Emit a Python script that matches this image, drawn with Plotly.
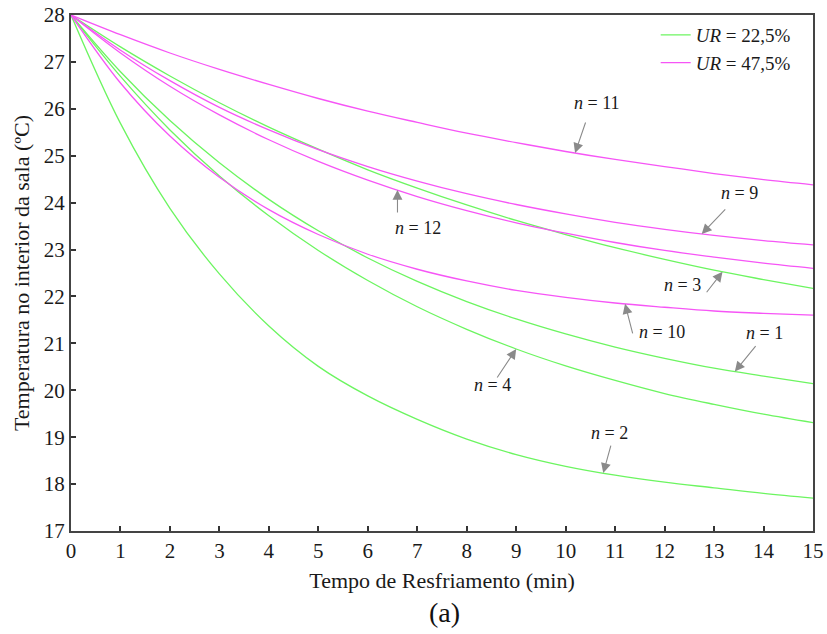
import numpy as np
import plotly.graph_objects as go

# Tempo de resfriamento (min)
tempo = list(range(0, 16))

# UR = 22,5 %
n1 = [28.0, 26.79, 25.75, 24.85, 24.07, 23.40, 22.82, 22.32, 21.89, 21.52, 21.20, 20.92, 20.68, 20.47, 20.30, 20.14]
n2 = [28.0, 25.69, 23.88, 22.48, 21.37, 20.51, 19.88, 19.38, 18.96, 18.63, 18.38, 18.19, 18.04, 17.92, 17.80, 17.70]
n3 = [28.0, 27.32, 26.70, 26.13, 25.61, 25.14, 24.70, 24.31, 23.95, 23.62, 23.32, 23.04, 22.79, 22.56, 22.36, 22.17]
n4 = [28.0, 26.69, 25.55, 24.57, 23.72, 22.98, 22.34, 21.78, 21.30, 20.88, 20.52, 20.21, 19.93, 19.70, 19.49, 19.31]

# UR = 47,5 %
n9 = [28.0, 27.25, 26.60, 26.03, 25.55, 25.13, 24.77, 24.46, 24.19, 23.96, 23.76, 23.58, 23.43, 23.30, 23.19, 23.10]
n10 = [28.0, 26.55, 25.42, 24.54, 23.85, 23.32, 22.90, 22.58, 22.33, 22.13, 21.98, 21.86, 21.77, 21.69, 21.64, 21.60]
n11 = [28.0, 27.58, 27.19, 26.84, 26.52, 26.22, 25.95, 25.71, 25.48, 25.28, 25.09, 24.92, 24.77, 24.62, 24.49, 24.38]
n12 = [28.0, 27.19, 26.48, 25.87, 25.34, 24.88, 24.48, 24.13, 23.83, 23.57, 23.35, 23.15, 22.98, 22.84, 22.71, 22.60]

x_ticks = list(range(0, 16))
y_ticks = list(range(17, 29))

VERDE = "#6cf560"
MAGENTA = "#f655f6"
SERIF = "Liberation Serif"

grupo_verde = {1: n1, 2: n2, 3: n3, 4: n4}
grupo_magenta = {9: n9, 10: n10, 11: n11, 12: n12}

fig = go.Figure()

first = True
for n, serie in grupo_verde.items():
    fig.add_trace(go.Scatter(
        x=tempo, y=serie, mode="lines",
        line=dict(color=VERDE, width=1.3, shape="spline", smoothing=1.0),
        name="<i>UR</i> = 22,5%", legendgroup="g", showlegend=first,
    ))
    first = False

first = True
for n, serie in grupo_magenta.items():
    fig.add_trace(go.Scatter(
        x=tempo, y=serie, mode="lines",
        line=dict(color=MAGENTA, width=1.3, shape="spline", smoothing=1.0),
        name="<i>UR</i> = 47,5%", legendgroup="m", showlegend=first,
    ))
    first = False

# Rótulos das curvas: (n, série, t da seta, deslocamento da cauda em px, posição do texto)
rotulos = [
    (11, n11, 10.19, 11, -32, 10.63, 26.12),
    (9, n9, 12.75, 25, -26, 13.52, 24.20),
    (12, n12, 6.60, 0, 24, 7.01, 23.46),
    (3, n3, 13.17, -17, 22, 12.37, 22.24),
    (10, n10, 11.20, 8, 31, 11.95, 21.24),
    (1, n1, 13.42, 22, -27, 14.01, 21.22),
    (4, n4, 9.00, -20, 30, 8.53, 20.11),
    (2, n2, 10.76, 8, -29, 10.88, 19.09),
]

annotations = []
for n, serie, t_seta, ax, ay, tx, ty in rotulos:
    y_seta = float(np.interp(t_seta, tempo, serie))
    annotations.append(dict(
        x=t_seta, y=y_seta, xref="x", yref="y", text="",
        showarrow=True, ax=ax, ay=ay, axref="pixel", ayref="pixel",
        arrowhead=2, arrowsize=1.8, arrowwidth=1.1, arrowcolor="#8a8a8a",
        standoff=0, startstandoff=0,
    ))
    annotations.append(dict(
        x=tx, y=ty, xref="x", yref="y", text=f"<i>n</i> = {n}",
        showarrow=False, font=dict(family=SERIF, size=18, color="#1a1a1a"),
    ))

annotations.append(dict(
    x=0.503, y=-0.157, xref="paper", yref="paper", text="(a)",
    xanchor="center", yanchor="middle",
    showarrow=False, font=dict(family=SERIF, size=28, color="#111111"),
))

fig.update_layout(
    width=827, height=634,
    margin=dict(l=71, r=14, t=15, b=103),
    paper_bgcolor="white", plot_bgcolor="white",
    font=dict(family=SERIF, size=22, color="#1a1a1a"),
    showlegend=True,
    legend=dict(
        x=0.788, y=0.998, xanchor="left", yanchor="top",
        bgcolor="rgba(0,0,0,0)", borderwidth=0,
        font=dict(family=SERIF, size=19, color="#1a1a1a"),
        itemwidth=30, tracegroupgap=0,
    ),
    annotations=annotations,
)

fig.update_xaxes(
    range=[0, 15], tickvals=x_ticks, ticks="inside", ticklen=5, tickwidth=1.5,
    tickcolor="#333333", showline=True, linecolor="#444444", linewidth=2,
    mirror=True, showgrid=False, zeroline=False, automargin=False,
    tickfont=dict(family=SERIF, size=21),
    title=dict(text="Tempo de Resfriamento (min)", font=dict(family=SERIF, size=22), standoff=10),
)
fig.update_yaxes(
    range=[17, 28], tickvals=y_ticks, ticks="inside", ticklen=5, tickwidth=1.5,
    tickcolor="#333333", showline=True, linecolor="#444444", linewidth=2,
    mirror=True, showgrid=False, zeroline=False, automargin=False,
    tickfont=dict(family=SERIF, size=21),
    title=dict(text="Temperatura no interior da sala (ºC)", font=dict(family=SERIF, size=22), standoff=8),
)

fig.write_html("out.html")
